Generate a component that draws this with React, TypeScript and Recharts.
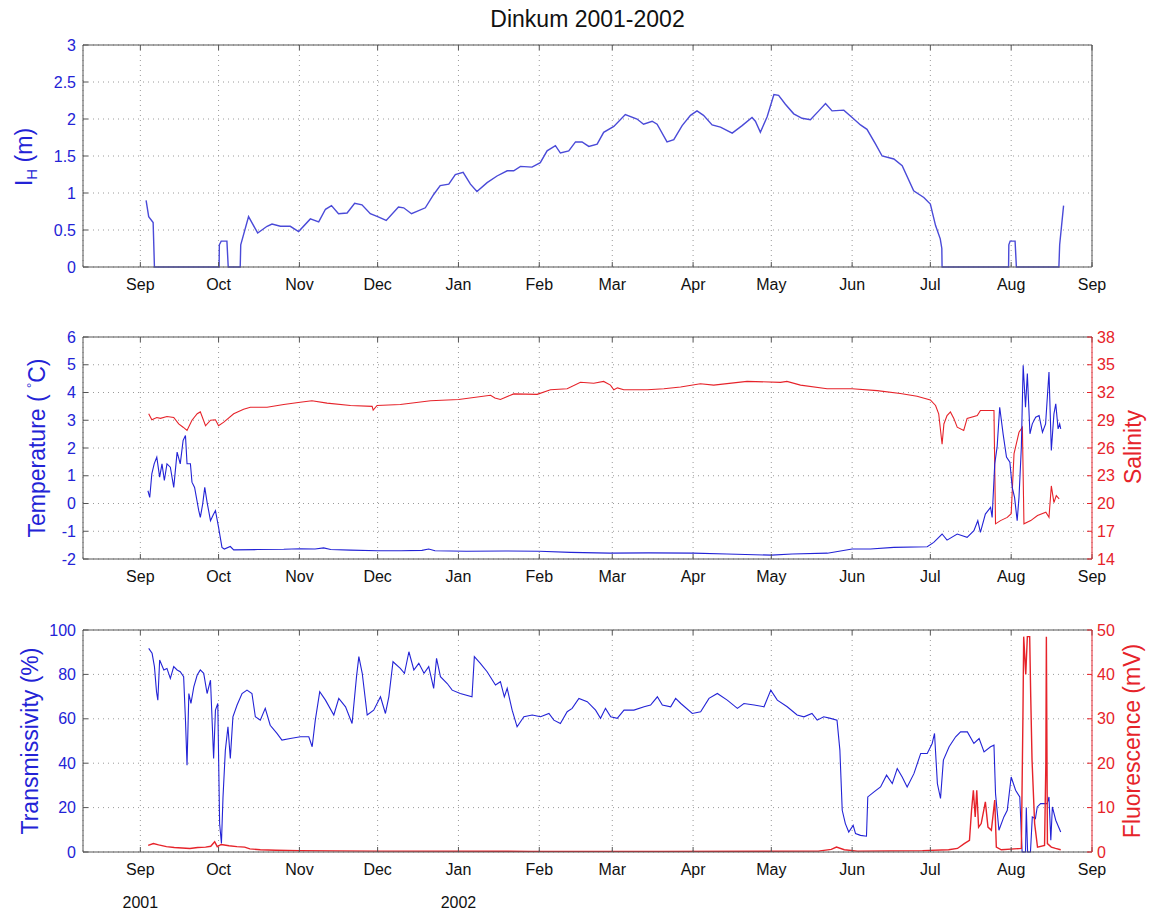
import { LineChart, Line, XAxis, YAxis, CartesianGrid } from "recharts";

const BLUE = "#2323d6";
const RED = "#e6232a";
const AXIS = "#555";
const GRID = "#9a9a9a";
const FONT = "'Liberation Sans', Arial, Helvetica, sans-serif";

// days counted from 1 Sep 2001
const monthTicks = [0, 30, 61, 91, 122, 153, 181, 212, 242, 273, 303, 334, 365];
const monthLabels = ["Sep", "Oct", "Nov", "Dec", "Jan", "Feb", "Mar", "Apr", "May", "Jun", "Jul", "Aug", "Sep"];
const yearTicks = [0, 122];
const yearLabels = ["2001", "2002"];

const ihTicks = [0, 0.5, 1, 1.5, 2, 2.5, 3];
const tempTicks = [-2, -1, 0, 1, 2, 3, 4, 5, 6];
const salTicks = [14, 17, 20, 23, 26, 29, 32, 35, 38];
const transTicks = [0, 20, 40, 60, 80, 100];
const fluorTicks = [0, 10, 20, 30, 40, 50];

// ice draft I_H (m)
const ihDay = [2.2, 3.2, 4.9, 5.4, 30.2, 30.3, 31, 33.2, 33.7, 38.3, 38.5, 41.5, 45, 48.6, 50.5, 53.7, 57.5, 60.7, 65.2, 68.4, 71, 73.3, 76, 79.3, 82.2, 85, 88.2, 91, 94.3, 99, 101, 104, 109.3, 112.5, 115, 118.3, 120.8, 123.8, 126.6, 129.1, 133, 136.8, 140.7, 143.2, 145.8, 150.2, 153.4, 156, 159.2, 161.1, 164.3, 166.9, 169.4, 172, 175.2, 177.7, 181.6, 186, 190.5, 193, 196.3, 198.2, 202, 204.6, 207.8, 211, 213.5, 216, 219.3, 222.5, 227, 230.8, 234.6, 235.9, 237.8, 240.4, 243, 244.8, 247.4, 250.6, 253.8, 257, 260.2, 262.8, 265.3, 269.8, 273, 276.2, 278.7, 282, 284.5, 289, 292.2, 296.6, 300.5, 303, 305, 306.8, 307.4, 307.5, 333, 333.1, 333.6, 335.5, 336, 352.3, 352.6, 354.1];
const ihVal = [0.9, 0.68, 0.6, 0, 0, 0.3, 0.35, 0.35, 0, 0, 0.3, 0.68, 0.46, 0.55, 0.58, 0.55, 0.55, 0.48, 0.65, 0.61, 0.78, 0.83, 0.72, 0.73, 0.86, 0.84, 0.72, 0.68, 0.63, 0.81, 0.8, 0.72, 0.8, 0.98, 1.1, 1.12, 1.25, 1.28, 1.12, 1.02, 1.14, 1.23, 1.3, 1.3, 1.36, 1.35, 1.41, 1.57, 1.64, 1.54, 1.57, 1.69, 1.69, 1.63, 1.66, 1.82, 1.9, 2.06, 2.0, 1.93, 1.97, 1.93, 1.69, 1.72, 1.91, 2.05, 2.11, 2.05, 1.92, 1.89, 1.81, 1.91, 2.02, 1.97, 1.82, 2.03, 2.33, 2.32, 2.2, 2.07, 2.01, 1.99, 2.11, 2.21, 2.11, 2.12, 2.02, 1.92, 1.86, 1.66, 1.5, 1.46, 1.37, 1.03, 0.94, 0.85, 0.56, 0.38, 0.25, 0, 0, 0.3, 0.35, 0.35, 0, 0, 0.3, 0.83];

// temperature (°C)
const tempDay = [2.9, 3.6, 4.4, 5.3, 6.3, 7.4, 8.3, 9.2, 10.2, 11.5, 12.8, 14.1, 15.3, 16.4, 17.3, 17.9, 19.2, 19.8, 20.8, 22.4, 23, 23.9, 24.7, 25.6, 26.9, 28.1, 28.8, 30, 31.3, 32.2, 34.5, 35.8, 45, 55, 61.3, 67, 70.3, 73, 80.6, 91, 100, 108, 110.6, 113, 125, 140, 153, 165, 180, 195, 212, 225, 242, 250, 263.5, 273, 280, 289, 301.8, 304.3, 307.5, 309.4, 313.3, 317.1, 319.7, 321.2, 322.2, 324.1, 326.1, 326.7, 327.7, 328.6, 329.6, 330.9, 332.2, 333.5, 334.4, 335.3, 336.3, 337, 337.9, 338.6, 339.5, 340.2, 341.2, 342.1, 343.4, 344.7, 346, 347.2, 348.5, 349.4, 350.4, 351.1, 352, 352.6, 353];
const tempVal = [0.46, 0.22, 1.07, 1.43, 1.67, 0.95, 1.43, 0.83, 1.43, 1.31, 0.58, 1.85, 1.43, 2.27, 2.45, 1.43, 1.43, 0.77, 0.58, -0.26, -0.5, -0.02, 0.58, 0.04, -0.62, -0.38, -0.26, -0.86, -1.58, -1.64, -1.55, -1.67, -1.66, -1.65, -1.63, -1.64, -1.6, -1.66, -1.68, -1.7, -1.7, -1.69, -1.64, -1.7, -1.72, -1.71, -1.72, -1.76, -1.79, -1.78, -1.79, -1.82, -1.86, -1.82, -1.79, -1.64, -1.64, -1.58, -1.56, -1.4, -1.1, -1.32, -1.1, -1.22, -0.98, -0.62, -1.04, -0.38, -0.14, -0.5, 1.43, 2.03, 3.47, 2.51, 1.67, 1.49, 0.58, 0.22, -0.62, 0.22, 2.03, 4.98, 3.47, 4.68, 2.51, 2.87, 3.11, 3.17, 2.57, 2.87, 4.74, 1.91, 3.23, 3.59, 2.69, 2.87, 2.69];

// salinity
const salDay = [3.2, 4.4, 6.3, 7.7, 10.2, 12.8, 14.7, 16.4, 17.9, 19.8, 21.8, 23, 25, 26.9, 28.8, 30, 32, 35.8, 39.6, 42.2, 48.6, 55, 61.3, 65.8, 71.6, 80.6, 88.9, 89.3, 90.8, 99.7, 111.3, 122.1, 134.3, 136, 138.1, 143.2, 152.2, 157.3, 163.7, 168.8, 173.9, 177.7, 180.3, 181.6, 183, 185.4, 194.4, 200.8, 207.2, 214.8, 219.9, 232.7, 245.5, 248, 253.2, 263.4, 273, 282.6, 291.5, 297.9, 303, 305, 306.2, 307.5, 308.2, 309.4, 310.7, 312, 313.3, 315.8, 317.1, 321, 322.2, 327.4, 328, 329.9, 332.5, 334, 335.1, 337, 338.3, 338.9, 341.5, 344.1, 347.3, 348.5, 349.4, 350.4, 351.3, 352.4];
const salVal = [29.7, 29.05, 29.3, 29.2, 29.4, 29.3, 28.6, 28.25, 27.9, 29.0, 29.7, 29.9, 28.4, 29.0, 29.05, 28.4, 28.8, 29.7, 30.2, 30.4, 30.4, 30.7, 30.95, 31.1, 30.85, 30.6, 30.5, 30.1, 30.6, 30.7, 31.1, 31.25, 31.7, 31.4, 31.25, 31.85, 31.8, 32.3, 32.4, 33.1, 33.0, 33.2, 32.8, 32.3, 32.5, 32.3, 32.3, 32.4, 32.6, 32.95, 32.8, 33.2, 33.1, 33.2, 32.8, 32.4, 32.4, 32.2, 31.9, 31.6, 31.2, 30.6, 29.7, 26.4, 28.6, 29.5, 29.9, 29.2, 28.25, 27.9, 29.2, 29.5, 30.05, 30.05, 17.8, 18.15, 18.5, 18.9, 25.4, 27.7, 28.25, 17.8, 18.15, 18.7, 19.05, 18.5, 21.9, 20.1, 20.85, 20.5];

// transmissivity (%)
const transDay = [3.2, 4.5, 5.4, 6.2, 6.7, 7.4, 9, 10.2, 11.5, 12.8, 14.1, 15.3, 16.6, 17.3, 17.9, 18.6, 19.4, 20.5, 21.8, 23, 24.3, 25.6, 26.9, 28.1, 28.8, 29.7, 30.4, 31.1, 31.7, 32.6, 33.6, 34.5, 35.5, 37.1, 39, 40.9, 42.8, 44.1, 46, 47.9, 49.8, 52.4, 54.3, 57.5, 61.4, 64.6, 65.9, 67.1, 68.8, 71, 74.2, 76.1, 78.7, 81.2, 82.9, 83.8, 85.1, 87, 89.5, 92.1, 94, 95.3, 96.9, 99.7, 101.3, 103, 104.9, 106.8, 108.8, 110.6, 112.5, 113.6, 115.1, 117.7, 119.6, 122.7, 127.2, 128.1, 130.4, 133, 136.2, 138.1, 139.6, 140.7, 142.6, 144.5, 147.1, 150.3, 153.5, 156.7, 158.6, 161.1, 163.7, 165.6, 168.2, 171.4, 174.6, 176.5, 178.4, 180.4, 182.9, 185.5, 189.3, 193.2, 195.7, 198.3, 200.2, 203.4, 205.3, 207.3, 211.7, 214.9, 218.1, 221.3, 225.1, 229, 231.5, 235.4, 239.2, 241.8, 244.3, 248.1, 251.9, 254.5, 257.6, 259.6, 262.1, 264.7, 267.2, 268.3, 269.2, 270.4, 271.7, 273.4, 274.3, 276.2, 278.5, 279, 281.4, 283.9, 286.2, 288.4, 290.3, 292.2, 294.1, 296.7, 299.3, 301.8, 303.7, 304.6, 305.7, 306.9, 308, 310.2, 312.7, 314.6, 317.2, 319.7, 321.7, 323.6, 326.1, 327.4, 328, 329.3, 331.2, 332.5, 334, 335.7, 337.3, 338.2, 339.5, 339.8, 340.3, 341.4, 342.1, 343.3, 344, 345.3, 347.8, 348.5, 349.2, 349.8, 351.1, 353];
const transVal = [91.7, 89.5, 83.5, 72.2, 68.4, 86.5, 82, 82.7, 78.2, 83.5, 82, 81.2, 79, 59.4, 39.1, 71.4, 66.9, 74.4, 79.7, 82, 80.5, 71.4, 77.4, 42.1, 63.9, 66.9, 12.8, 3.8, 24.8, 45.9, 56.4, 42.1, 60.9, 66.2, 71.4, 72.9, 71.4, 60.9, 59.4, 64.7, 57.1, 53.4, 50.4, 51.1, 51.9, 51.9, 47.4, 59.4, 72.2, 68.4, 61.7, 69.2, 65.4, 57.9, 78.9, 88, 80.5, 61.7, 63.9, 69.9, 62.4, 69.9, 85.7, 82.7, 80.5, 90.2, 82, 85, 80.5, 83.5, 73.7, 87.2, 79, 75.9, 72.9, 71.4, 69.9, 88, 85, 81.2, 75.2, 76.7, 69.9, 73.7, 63.9, 56.4, 60.9, 61.7, 60.9, 62.4, 59.4, 57.9, 63.2, 64.7, 69.2, 67.7, 63.9, 60.2, 64.7, 60.9, 60.2, 63.9, 63.9, 65.4, 66.2, 69.9, 66.2, 65.4, 69.2, 66.9, 62.4, 63.2, 69.2, 71.4, 68.4, 64.7, 66.9, 66.2, 65.4, 72.9, 68.4, 65.4, 61.7, 60.9, 62.4, 59.4, 60.9, 60.2, 59.4, 45.9, 18.8, 12.8, 9, 12, 8.3, 7.5, 7.1, 24.8, 27.1, 29.3, 34.6, 30.8, 37.6, 33.8, 29.3, 35.3, 44.4, 44.4, 48.9, 53.4, 30.8, 24.1, 41.4, 47.4, 51.9, 54.1, 54.1, 48.9, 51.1, 45.1, 47.4, 48.1, 26.3, 9.8, 15.8, 18.8, 33.8, 27.8, 24.8, 0, 0, 20, 0, 0, 15.8, 15, 20.3, 21.8, 21.8, 24.8, 5.3, 20.3, 14.3, 9];

// fluorescence (mV)
const fluorDay = [3, 5, 7, 10, 13, 16, 19, 22, 25, 27, 28.5, 29.5, 31, 34, 37, 40, 42, 46, 52, 61, 75, 91, 150, 200, 260, 265, 267, 270, 275, 300, 310, 313.4, 316, 318, 318.8, 319.5, 320.2, 320.8, 321.5, 322.5, 324.1, 325.1, 326.4, 327.7, 328.3, 330.2, 337.9, 338.5, 338.8, 339.6, 340.2, 341.1, 341.5, 342, 343, 344.1, 346.8, 347.3, 347.5, 347.9, 349.4, 351, 353];
const fluorVal = [1.5, 1.9, 1.6, 1.2, 1.0, 0.9, 0.8, 1.0, 1.1, 1.3, 2.3, 1.2, 1.7, 1.4, 1.2, 1.1, 0.7, 0.5, 0.4, 0.3, 0.25, 0.2, 0.15, 0.15, 0.2, 0.6, 1.1, 0.5, 0.2, 0.3, 0.5, 0.8, 1.9, 2.6, 9.4, 13.9, 7.9, 13.9, 5.6, 6.4, 11.3, 5.6, 4.9, 11.7, 1.1, 0.5, 0.8, 30, 48.5, 40, 48.5, 48.5, 35, 20.7, 6.4, 1.1, 1.5, 20, 48.5, 1.9, 1.1, 0.8, 0.5];

const zip = (days: number[], vals: number[]) => days.map((d, i) => ({ d, v: vals[i] }));

const W = 1151;
const H = 283;
const LEFT_W = 83;
const RIGHT_W = 59;
const X_DOMAIN = [-22, 365];

const monthFmt = (v: number) => {
  const i = monthTicks.indexOf(v);
  return i >= 0 ? monthLabels[i] : "";
};
const blank = () => "";

type Series = { data: { d: number; v: number }[]; color: string; axis: string; width?: number };

function Panel(props: {
  top: number;
  leftTicks: number[];
  rightTicks: number[];
  rightColor: string;
  rightLabels: boolean;
  series: Series[];
}) {
  const { top, leftTicks, rightTicks, rightColor, rightLabels, series } = props;
  const tickStyle = { fontSize: 16, fontFamily: FONT };
  return (
    <div style={{ position: "absolute", left: 0, top }}>
      <LineChart width={W} height={H} margin={{ top: 20, right: 0, bottom: 10, left: 0 }}>
        <CartesianGrid stroke={GRID} strokeDasharray="1 4" xAxisId="bottom" yAxisId="left" />
        <XAxis
          xAxisId="bottom"
          type="number"
          dataKey="d"
          domain={X_DOMAIN}
          allowDataOverflow
          ticks={monthTicks}
          interval={0}
          tickFormatter={monthFmt}
          height={30}
          tickSize={-5}
          tickMargin={17}
          stroke={AXIS}
          tick={{ ...tickStyle, fill: "#111" }}
        />
        <XAxis
          xAxisId="top"
          orientation="top"
          type="number"
          dataKey="d"
          domain={X_DOMAIN}
          allowDataOverflow
          ticks={monthTicks}
          interval={0}
          tickFormatter={blank}
          height={1}
          tickSize={-5}
          stroke={AXIS}
        />
        <YAxis
          yAxisId="left"
          type="number"
          domain={[leftTicks[0], leftTicks[leftTicks.length - 1]]}
          ticks={leftTicks}
          interval={0}
          width={LEFT_W}
          tickSize={-5}
          tickMargin={12}
          stroke={AXIS}
          tick={{ ...tickStyle, fill: BLUE }}
        />
        <YAxis
          yAxisId="right"
          orientation="right"
          type="number"
          domain={[rightTicks[0], rightTicks[rightTicks.length - 1]]}
          ticks={rightTicks}
          interval={0}
          width={RIGHT_W}
          tickSize={-5}
          tickMargin={10}
          stroke={rightColor}
          tickFormatter={rightLabels ? undefined : blank}
          tick={{ ...tickStyle, fill: rightColor }}
        />
        {series.map((s, i) => (
          <Line
            key={i}
            data={s.data}
            dataKey="v"
            xAxisId="bottom"
            yAxisId={s.axis}
            stroke={s.color}
            strokeWidth={s.width ?? 1.1}
            dot={false}
            activeDot={false}
            type="linear"
            isAnimationActive={false}
          />
        ))}
      </LineChart>
    </div>
  );
}

function VLabel({ x, y, color, children }: { x: number; y: number; color: string; children: any }) {
  return (
    <div
      style={{
        position: "absolute",
        left: x,
        top: y,
        transform: "translate(-50%, -50%) rotate(-90deg)",
        whiteSpace: "nowrap",
        color,
        fontSize: 23,
        fontFamily: FONT,
        lineHeight: 1,
      }}
    >
      {children}
    </div>
  );
}

export default function App() {
  const yearX = (d: number) => LEFT_W + ((d - X_DOMAIN[0]) / (X_DOMAIN[1] - X_DOMAIN[0])) * (W - LEFT_W - RIGHT_W);
  return (
    <div style={{ position: "absolute", left: 0, top: 0, width: W, height: 915, background: "#fff", fontFamily: FONT }}>
      <div style={{ position: "absolute", left: LEFT_W, width: W - LEFT_W - RIGHT_W, top: 6, textAlign: "center", fontSize: 23, color: "#111" }}>
        Dinkum 2001-2002
      </div>

      <Panel
        top={24}
        leftTicks={ihTicks}
        rightTicks={ihTicks}
        rightColor={AXIS}
        rightLabels={false}
        series={[{ data: zip(ihDay, ihVal), color: "#4a4ad8", axis: "left", width: 1.4 }]}
      />
      <Panel
        top={316}
        leftTicks={tempTicks}
        rightTicks={salTicks}
        rightColor={RED}
        rightLabels={true}
        series={[
          { data: zip(salDay, salVal), color: RED, axis: "right" },
          { data: zip(tempDay, tempVal), color: BLUE, axis: "left" },
        ]}
      />
      <Panel
        top={609}
        leftTicks={transTicks}
        rightTicks={fluorTicks}
        rightColor={RED}
        rightLabels={true}
        series={[
          { data: zip(transDay, transVal), color: BLUE, axis: "left" },
          { data: zip(fluorDay, fluorVal), color: RED, axis: "right", width: 1.4 },
        ]}
      />

      <VLabel x={26} y={157} color={BLUE}>
        I<sub style={{ fontSize: 15 }}>H</sub> (m)
      </VLabel>
      <VLabel x={37} y={448} color={BLUE}>
        Temperature ( <sup style={{ fontSize: 13 }}>°</sup>C)
      </VLabel>
      <VLabel x={30} y={741} color={BLUE}>
        Transmissivity (%)
      </VLabel>
      <VLabel x={1133} y={447} color={RED}>
        Salinity
      </VLabel>
      <VLabel x={1132} y={741} color={RED}>
        Fluorescence (mV)
      </VLabel>

      {yearTicks.map((d, i) => (
        <div
          key={yearLabels[i]}
          style={{ position: "absolute", left: yearX(d), top: 894, transform: "translateX(-50%)", fontSize: 16, color: "#111" }}
        >
          {yearLabels[i]}
        </div>
      ))}
    </div>
  );
}
